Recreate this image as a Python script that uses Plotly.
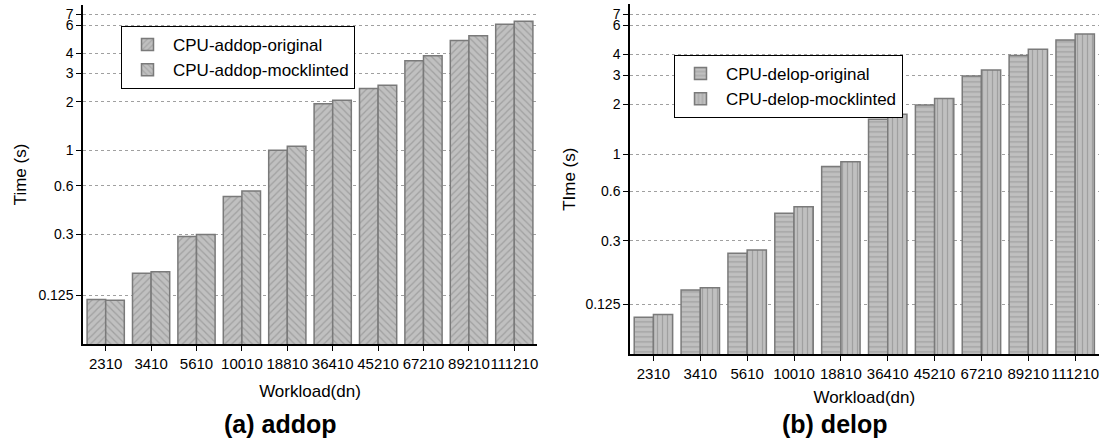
import math
import plotly.graph_objects as go

workloads = ["2310", "3410", "5610", "10010", "18810", "36410", "45210", "67210", "89210", "111210"]
addop_original = [0.118, 0.172, 0.291, 0.517, 1.00, 1.95, 2.42, 3.60, 4.82, 6.07]
addop_mocklinted = [0.117, 0.176, 0.300, 0.558, 1.06, 2.05, 2.54, 3.87, 5.15, 6.34]
delop_original = [0.104, 0.152, 0.253, 0.441, 0.842, 1.625, 1.98, 2.96, 3.93, 4.88]
delop_mocklinted = [0.108, 0.157, 0.265, 0.483, 0.902, 1.74, 2.17, 3.22, 4.29, 5.30]
y_ticks = [0.125, 0.3, 0.6, 1, 2, 3, 4, 6, 7]
y_ticktext = ["0.125", "0.3", "0.6", "1", "2", "3", "4", "6", "7"]

FONT = "Arial, Liberation Sans, sans-serif"
FILL = "#c0c0c0"
FG = "#808080"
EDGE = "#7a7a7a"

def bar(name, y, shape, xa, ya, legend):
    return go.Bar(
        name=name, x=workloads, y=y, xaxis=xa, yaxis=ya, legend=legend,
        marker=dict(color=FILL, line=dict(color=EDGE, width=1.5),
                    pattern=dict(shape=shape, fgcolor=FG, bgcolor=FILL, size=5, solidity=0.25)),
    )

fig = go.Figure()
fig.add_trace(bar("CPU-addop-original", addop_original, "/", "x", "y", "legend"))
fig.add_trace(bar("CPU-addop-mocklinted", addop_mocklinted, "\\", "x", "y", "legend"))
fig.add_trace(bar("CPU-delop-original", delop_original, "-", "x2", "y2", "legend2"))
fig.add_trace(bar("CPU-delop-mocklinted", delop_mocklinted, "|", "x2", "y2", "legend2"))

yr = [math.log10(1 / 16), math.log10(8)]

xcommon = dict(type="category", range=[-0.5, 9.5], showline=True, linecolor="black", linewidth=1.5,
               ticks="outside", ticklen=5, tickcolor="black", showgrid=False, tickangle=0,
               tickfont=dict(size=15, color="black", family=FONT))
ycommon = dict(type="log", range=yr, showline=True, linecolor="black", linewidth=1.5,
               ticks="outside", ticklen=5, tickcolor="black",
               tickvals=y_ticks, ticktext=y_ticktext,
               showgrid=True, gridcolor="#a0a0a0", griddash="dot", gridwidth=1,
               tickfont=dict(size=14, color="black", family=FONT), zeroline=False)
tfont = dict(size=17, color="black", family=FONT)
lfont = dict(size=17, color="black", family=FONT)

fig.update_layout(
    width=1102, height=441, margin=dict(l=0, r=0, t=0, b=0),
    paper_bgcolor="white", plot_bgcolor="white",
    font=dict(family=FONT, color="black"),
    barmode="group", bargap=0.18, bargroupgap=0,
    xaxis=dict(domain=[83 / 1102, 537 / 1102], anchor="y",
               title=dict(text="Workload(dn)", font=tfont, standoff=14), **xcommon),
    yaxis=dict(domain=[1 - 344 / 441, 1 - 5 / 441], anchor="x",
               title=dict(text="Time (s)", font=tfont, standoff=7), **ycommon),
    xaxis2=dict(domain=[630 / 1102, 1098.6 / 1102], anchor="y2",
                title=dict(text="Workload(dn)", font=tfont, standoff=10), **xcommon),
    yaxis2=dict(domain=[1 - 354 / 441, 1 - 4.4 / 441], anchor="x2",
                title=dict(text="TIme (s)", font=tfont, standoff=5), **ycommon),
    legend=dict(x=121 / 1102, y=1 - 26 / 441, xanchor="left", yanchor="top",
                bgcolor="white", bordercolor="black", borderwidth=1, itemwidth=41,
                font=lfont, tracegroupgap=0),
    legend2=dict(x=674 / 1102, y=1 - 55 / 441, xanchor="left", yanchor="top",
                 bgcolor="white", bordercolor="black", borderwidth=1, itemwidth=41,
                 font=lfont, tracegroupgap=0),
    annotations=[
        dict(text="<b>(a) addop</b>", x=280 / 1102, y=1 - 424 / 441, xref="paper", yref="paper",
             xanchor="center", yanchor="middle", showarrow=False,
             font=dict(size=25, color="black", family=FONT)),
        dict(text="<b>(b) delop</b>", x=835 / 1102, y=1 - 423.5 / 441, xref="paper", yref="paper",
             xanchor="center", yanchor="middle", showarrow=False,
             font=dict(size=25, color="black", family=FONT)),
    ],
)

fig.write_html("out.html", config={"displayModeBar": False},
               post_script="document.body.style.margin='0';document.body.style.padding='0';document.body.style.overflow='hidden';")
